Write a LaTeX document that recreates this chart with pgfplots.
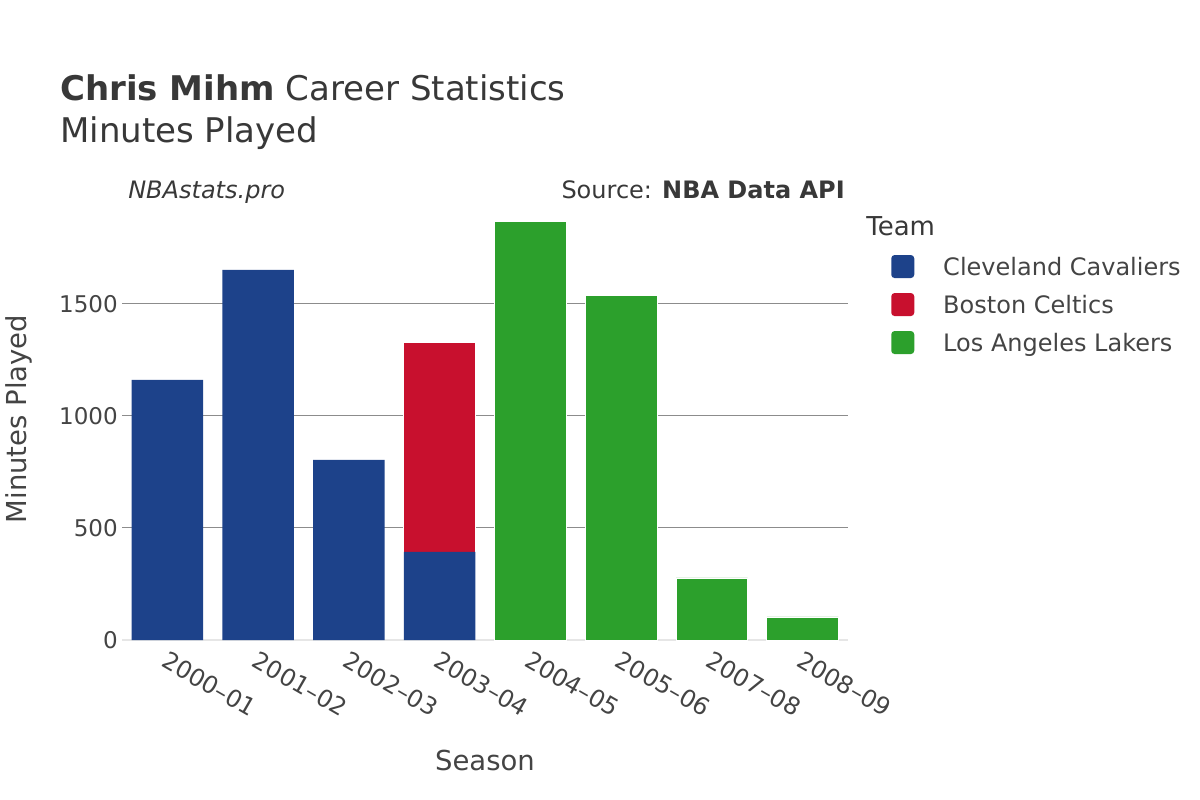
\documentclass[border=0pt]{standalone}
\usepackage{fontspec}
\setmainfont{DejaVu Sans}
\usepackage{pgfplots}
\pgfplotsset{compat=1.18}

\definecolor{cle}{HTML}{1D428A}
\definecolor{bos}{HTML}{C8102E}
\definecolor{lal}{HTML}{2CA02C}
\definecolor{txt}{HTML}{444444}
\definecolor{ttl}{HTML}{383838}
\definecolor{gridc}{HTML}{8C8C8C}
\definecolor{zeroc}{HTML}{E6E6E6}
\newcommand\fs[1]{\fontsize{#1}{#1}\selectfont}

% minutes per season, one column per team
\pgfplotstableread{
x cle bos lal
0 1161 0 0
1 1652 0 0
2 804 0 0
3 393 933 0
4 0 0 1866
5 0 0 1536
6 0 0 277
7 0 0 103
}\minutes

\begin{document}
\begin{tikzpicture}
\path[use as bounding box] (0pt,0pt) rectangle (900pt,600pt);

\begin{axis}[
  at={(91.5pt,120pt)}, anchor=south west,
  scale only axis, width=544.5pt, height=329.25pt,
  ybar stacked, bar width=0.79,
  xmin=-0.5, xmax=7.5, ymin=0, ymax=1959,
  xtick={0,...,7},
  xticklabels={2000--01,2001--02,2002--03,2003--04,2004--05,2005--06,2007--08,2008--09},
  ytick={500,1000,1500}, extra y ticks={0},
  ymajorgrids, major grid style={draw=gridc, line width=0.75pt},
  extra y tick style={major grid style={draw=zeroc, line width=1.6pt}},
  axis line style={draw=none}, major tick length=0pt,
  tick label style={font=\fs{17.25}, text=txt},
  yticklabel style={anchor=east, inner sep=0pt, xshift=-3pt},
  xticklabel style={font=\fs{18}, rotate=-30, anchor=north west, inner sep=0pt, xshift=4.7pt, yshift=-5.95pt},
  /pgf/number format/assume math mode=true,
  /pgf/number format/1000 sep={},
  scaled y ticks=false,
  clip=false,
  legend cell align=left,
  legend style={at={(axis description cs:1.0592,0.8804)}, anchor=north west,
    draw=none, fill=none, inner sep=0pt, font=\fs{18}, text=txt,
    row sep=7.9pt, column sep=21.75pt,
    nodes={inner sep=0pt, text height=16.1pt, text depth=4.5pt}},
  legend image code/.code={\fill[#1, draw=none, rounded corners=2.5pt] (0pt,-7.9pt) rectangle (17.25pt,9.35pt);},
]
\addplot[fill=cle, draw=none] table[x=x, y=cle] {\minutes};
\addplot[fill=bos, draw=white, line width=0.6pt] table[x=x, y=bos] {\minutes};
\addplot[fill=lal, draw=white, line width=0.6pt] table[x=x, y=lal] {\minutes};
\legend{Cleveland Cavaliers, Boston Celtics, Los Angeles Lakers}
\end{axis}

\begin{scope}[x=0.75pt,y=0.75pt]
\node[anchor=base west, inner sep=0pt, text=ttl, font=\fs{25.5}] at (60,699) {\textbf{Chris Mihm} Career Statistics};
\node[anchor=base west, inner sep=0pt, text=ttl, font=\fs{25.5}] at (60,657) {Minutes Played};
\node[anchor=base west, inner sep=0pt, text=ttl, font=\fs{18}\itshape] at (128,601) {NBAstats.pro};
\node[anchor=base east, inner sep=0pt, text=ttl, font=\fs{18}] at (845,601) {Source: \textbf{NBA Data API}};
\node[anchor=base west, inner sep=0pt, text=ttl, font=\fs{19.5}] at (866,564) {Team};
\node[anchor=base, inner sep=0pt, text=txt, font=\fs{20.6}, rotate=90] at (27,381) {Minutes Played};
\node[anchor=base, inner sep=0pt, text=txt, font=\fs{20.6}] at (485,30) {Season};
\end{scope}
\end{tikzpicture}
\end{document}
